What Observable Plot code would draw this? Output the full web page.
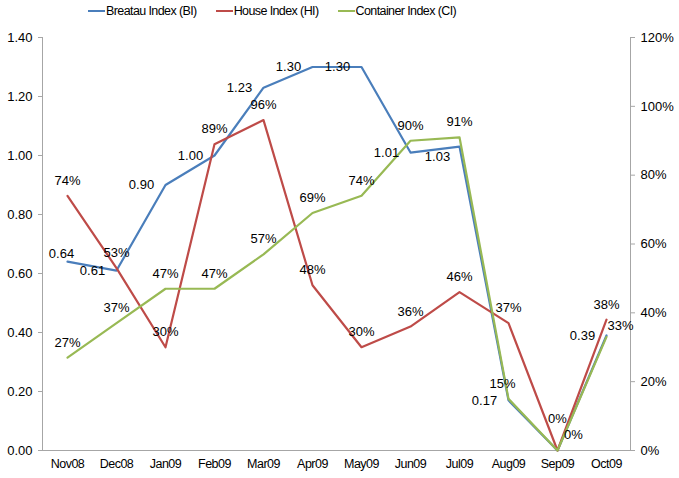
<!DOCTYPE html>
<html><head><meta charset="utf-8">
<script src="https://cdn.jsdelivr.net/npm/d3@7"></script>
<script src="https://cdn.jsdelivr.net/npm/@observablehq/plot@0.6"></script>
<style>
body{margin:0;background:#fff;font-family:"Liberation Sans",Arial,sans-serif;}
#wrap{position:relative;width:679px;height:478px;}
#legend{position:absolute;top:4px;left:88px;display:flex;gap:19px;font-size:12.5px;letter-spacing:-0.6px;color:#000;z-index:2;}
#legend span.item{display:flex;align-items:center;}
#legend span.sw{display:inline-block;width:17px;height:2.5px;margin-right:1px;}
</style></head>
<body><div id="wrap"><div id="legend"></div></div>
<script>
const months = ["Nov08","Dec08","Jan09","Feb09","Mar09","Apr09","May09","Jun09","Jul09","Aug09","Sep09","Oct09"];
const breatau = [0.64,0.61,0.90,1.00,1.23,1.30,1.30,1.01,1.03,0.17,0.00,0.39];
const house = [74,53,30,89,96,48,30,36,46,37,0,38];
const container = [27,37,47,47,57,69,74,90,91,15,0,33];
const leftTicks = [0,0.2,0.4,0.6,0.8,1.0,1.2,1.4];
const rightTicks = [0,20,40,60,80,100,120];
const seriesNames = ["Breatau Index (BI)","House Index (HI)","Container Index (CI)"];
const colors = ["#4A7EBB","#BE4B48","#98B954"];

// label placement tweaks (style only, keyed by series and month)
const labelShift = {
  "BI:Nov08":[-6,-8], "HI:Sep09":[0,-32], "CI:Sep09":[16,-16], "CI:Oct09":[14,-11], "CI:Aug09":[-6,-15], "BI:Jul09":[-22,10]
};

const k = 1.4/120; // percent -> left scale
function build(key, vals, fmt, scale, base){
  return months.map((m,i)=>{
    const s = labelShift[key+":"+m] || base;
    return {m, v:vals[i]*scale, label:fmt(vals[i]), dx:s[0], dy:s[1]};
  });
}
const bi = build("BI", breatau, v=>v.toFixed(2), 1, [-24,0]);
const hi = build("HI", house, v=>v+"%", k, [0,-15]);
const ci = build("CI", container, v=>v+"%", k, [0,-15]);

const font = "Liberation Sans, Arial, sans-serif";
function labels(data){
  return data.map(d=>Plot.text([d],{x:"m", y:"v", text:"label", dx:d.dx, dy:d.dy, fontSize:13, fill:"#000", fontFamily:font}));
}
const chart = Plot.plot({
  width:679, height:478,
  marginTop:37, marginBottom:28, marginLeft:42, marginRight:49,
  style:{fontFamily:font, fontSize:"13px", color:"#000", background:"#fff"},
  x:{type:"point", domain:months, padding:0.5},
  y:{domain:[0,1.4]},
  marks:[
    Plot.frame({anchor:"left", stroke:"#a6a6a6"}),
    Plot.frame({anchor:"right", stroke:"#a6a6a6"}),
    Plot.frame({anchor:"bottom", stroke:"#a6a6a6"}),
    Plot.axisY({ticks:leftTicks, tickFormat:d=>d.toFixed(2), tickSize:4, tickPadding:6, stroke:"#a6a6a6", label:null, fontSize:13}),
    Plot.axisY({anchor:"right", ticks:rightTicks.map(t=>t*k), tickFormat:d=>Math.round(d/k)+"%", tickSize:4, tickPadding:6, stroke:"#a6a6a6", label:null, fontSize:13}),
    Plot.axisX({tickSize:0, tickPadding:9, label:null, fontSize:12.5, className:"xax"}),
    Plot.lineY(bi,{x:"m", y:"v", stroke:colors[0], strokeWidth:2.2}),
    Plot.lineY(hi,{x:"m", y:"v", stroke:colors[1], strokeWidth:2.2}),
    Plot.lineY(ci,{x:"m", y:"v", stroke:colors[2], strokeWidth:2.2}),
    ...labels(bi.filter(d=>d.v>0)),
    ...labels(hi),
    ...labels(ci)
  ]
});
d3.select(chart).selectAll(".xax text").style("letter-spacing","-0.5px");
document.getElementById("wrap").appendChild(chart);
chart.style.position="absolute"; chart.style.top="0"; chart.style.left="0";
const legend = document.getElementById("legend");
seriesNames.forEach((n,i)=>{
  const s=document.createElement("span"); s.className="item";
  s.innerHTML=`<span class="sw" style="background:${colors[i]}"></span>${n}`;
  legend.appendChild(s);
});
</script>
</body></html>
